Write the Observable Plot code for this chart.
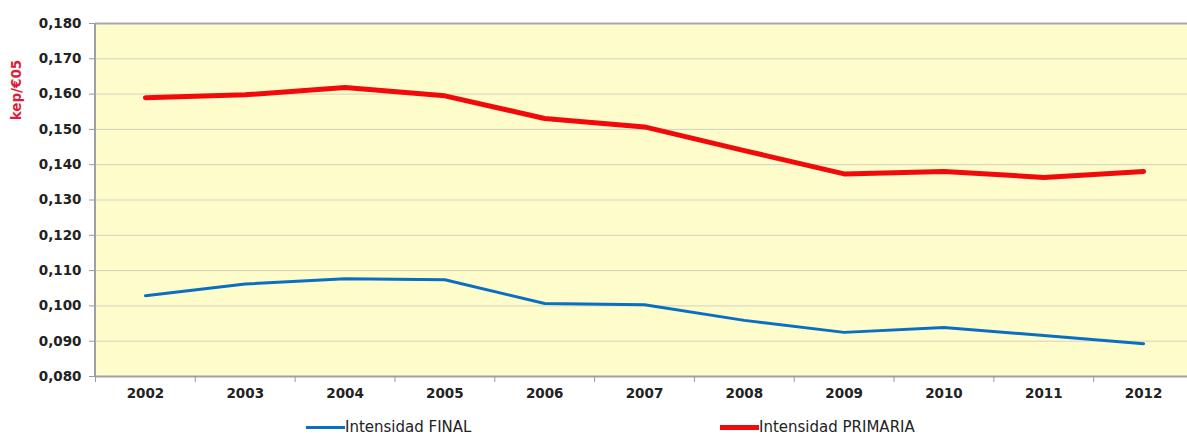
<!DOCTYPE html>
<html>
<head>
<meta charset="utf-8">
<script src="https://cdn.jsdelivr.net/npm/d3@7"></script>
<script src="https://cdn.jsdelivr.net/npm/@observablehq/plot@0.6"></script>
<style>
  html, body { margin: 0; padding: 0; background: #fff; }
  #wrap { position: relative; width: 1187px; height: 435px; overflow: hidden; }
  #legend { position: relative; height: 25px; font-family: "DejaVu Sans", sans-serif; font-size: 15px; color: #222; }
  .item { position: absolute; top: 8px; display: flex; align-items: center; }
  .sw { display: inline-block; width: 39px; height: 3px; }
</style>
</head>
<body>
<div id="wrap">
  <div id="chart"></div>
  <div id="legend"></div>
</div>
<script>
const years = [2002, 2003, 2004, 2005, 2006, 2007, 2008, 2009, 2010, 2011, 2012];
const finalValues = [0.1029, 0.1062, 0.1077, 0.1074, 0.1007, 0.1003, 0.0959, 0.0925, 0.0939, 0.0916, 0.0893];
const primariaValues = [0.1590, 0.1598, 0.1619, 0.1595, 0.1531, 0.1507, 0.1440, 0.1374, 0.1381, 0.1364, 0.1381];
const yTicks = [0.08, 0.09, 0.10, 0.11, 0.12, 0.13, 0.14, 0.15, 0.16, 0.17, 0.18];
const seriesNames = ["Intensidad FINAL", "Intensidad PRIMARIA"];
const seriesColors = ["#0a6fc2", "#f20a0a"];
const yLabel = "kep/€05";

const finalData = years.map((y, i) => ({year: y, value: finalValues[i]}));
const primData = years.map((y, i) => ({year: y, value: primariaValues[i]}));
const boundaries = years.map(y => y - 0.5).concat([years[years.length - 1] + 0.5]);
const fmt = v => d3.format(".3f")(v).replace(".", ",");

const chart = Plot.plot({
  width: 1187,
  height: 410,
  marginLeft: 95,
  marginRight: -6,
  marginTop: 23,
  marginBottom: 34,
  style: {fontFamily: "DejaVu Sans, sans-serif", fontSize: "13.5px", fontWeight: "600", color: "#222", background: "#fff"},
  x: {type: "linear", domain: [years[0] - 0.5, years[years.length - 1] + 0.5]},
  y: {domain: [0.08, 0.18]},
  marks: [
    Plot.frame({fill: "#fefccb", stroke: null}),
    Plot.gridY(yTicks.slice(1, -1), {stroke: "#d2d2bc", strokeOpacity: 1, strokeWidth: 1}),
    Plot.ruleY([0.18], {stroke: "#a8a8a8", strokeWidth: 2}),
    Plot.ruleY([0.08], {stroke: "#a0a0a0", strokeWidth: 2}),
    Plot.axisY({ticks: yTicks, tickFormat: fmt, tickSize: 6, tickPadding: 8, stroke: "#999", label: null}),
    Plot.axisX({ticks: boundaries, tickFormat: () => "", tickSize: 6, stroke: "#999", label: null}),
    Plot.axisX({ticks: years, tickFormat: d => String(d), tickSize: 0, tickPadding: 12, label: null}),
    Plot.line(finalData, {x: "year", y: "value", stroke: seriesColors[0], strokeWidth: 3}),
    Plot.line(primData, {x: "year", y: "value", stroke: seriesColors[1], strokeWidth: 5})
  ]
});
document.getElementById("chart").appendChild(chart);
const svg = d3.select(chart);
const yScale = chart.scale("y");
const ys = v => yScale.apply(v);
// left axis line
svg.append("line").attr("x1", 95).attr("x2", 95).attr("y1", ys(0.18)).attr("y2", ys(0.08)).attr("stroke", "#a0a0a0").attr("stroke-width", 2);
// y label
svg.append("text")
  .attr("transform", `translate(17,${ys(0.161)}) rotate(-90)`)
  .attr("text-anchor", "middle").attr("dominant-baseline", "middle")
  .attr("fill", "#d81e3a").attr("font-size", 13.5).attr("font-weight", "bold")
  .text(yLabel);

const legend = document.getElementById("legend");
const lefts = [306, 720];
seriesNames.forEach((name, i) => {
  const it = document.createElement("div");
  it.className = "item";
  it.style.left = lefts[i] + "px";
  const sw = document.createElement("span");
  sw.className = "sw";
  sw.style.background = seriesColors[i];
  sw.style.height = i === 0 ? "3px" : "5px";
  const tx = document.createElement("span");
  tx.textContent = name;
  it.appendChild(sw);
  it.appendChild(tx);
  legend.appendChild(it);
});
</script>
</body>
</html>
